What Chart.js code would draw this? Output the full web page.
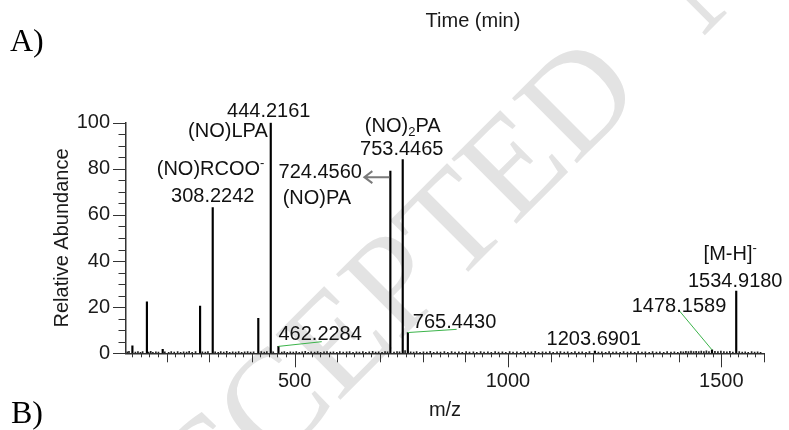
<!DOCTYPE html>
<html>
<head>
<meta charset="utf-8">
<script src="https://cdn.jsdelivr.net/npm/chart.js@4.4.1/dist/chart.umd.min.js"></script>
<style>
  html, body { margin: 0; padding: 0; background: #fff; }
  canvas { display: block; }
</style>
</head>
<body>
<canvas id="spec" width="789" height="430"></canvas>
<script>
// ---- spectrum data (m/z, relative abundance %) ----
const peakMz  = [120, 154, 191, 278.6, 308.2242, 415, 444.2161, 462.2284, 724.4560, 753.4465, 765.4430, 1203.6901, 1478.1589, 1534.9180];
const peakInt = [3.2, 22.3, 1.7, 20.5, 63.2, 15.2, 100, 3.0, 79.0, 84.0, 9.0, 1.0, 1.5, 27.0];

// low-level background ions along the baseline
const noiseMz  = [108, 112, 127, 133, 139, 144, 158, 163, 168, 175, 181, 196, 205, 211, 218, 226, 233, 240, 247, 253, 260, 268,
  284, 291, 297, 314, 321, 327, 334, 341, 348, 355, 362, 369, 376, 383, 390, 397, 404, 422, 429, 435, 450, 470, 476, 483, 490,
  497, 504, 511, 518, 525, 532, 539, 547, 554, 561, 569, 576, 584, 591, 599, 606, 614, 622, 629, 637, 645, 652, 660, 667, 675,
  683, 690, 697, 705, 712, 718, 733, 740, 746, 759, 772, 779, 786, 794, 802, 810, 818, 826, 834, 842, 851, 859, 868, 876, 885,
  893, 902, 910, 919, 927, 936, 944, 953, 961, 970, 978, 987, 995, 1004, 1012, 1021, 1030, 1038, 1047, 1055, 1064, 1072, 1081,
  1089, 1098, 1106, 1115, 1123, 1132, 1140, 1149, 1157, 1166, 1174, 1183, 1191, 1212, 1220, 1229, 1237, 1246, 1254, 1263, 1271,
  1280, 1288, 1297, 1305, 1314, 1322, 1331, 1339, 1348, 1356, 1365, 1373, 1382, 1390, 1398, 1405, 1411, 1417, 1423, 1429, 1435,
  1441, 1447, 1453, 1459, 1465, 1471, 1485, 1492, 1499, 1506, 1513, 1520, 1527, 1542, 1549, 1556, 1563, 1571, 1578, 1585, 1592];
const noiseInt = [0.6, 0.9, 0.5, 0.8, 0.4, 0.7, 0.5, 0.9, 0.4, 0.6, 0.5, 0.6, 0.4, 0.7, 0.5, 0.8, 0.4, 0.6, 0.5, 0.9, 0.4, 0.7,
  0.6, 0.5, 0.8, 0.6, 0.4, 0.7, 0.5, 0.9, 0.4, 0.6, 0.5, 0.8, 0.4, 0.6, 0.7, 0.5, 0.6, 0.8, 0.5, 0.7, 0.6, 0.5, 0.8, 0.4, 0.6,
  0.5, 0.7, 0.4, 0.6, 0.9, 0.4, 0.6, 0.5, 0.7, 0.4, 0.6, 0.8, 0.5, 0.6, 0.4, 0.7, 0.5, 0.6, 0.8, 0.4, 0.6, 0.5, 0.7, 0.4, 0.6,
  0.9, 0.5, 0.6, 0.4, 0.7, 0.6, 0.5, 0.8, 0.6, 1.2, 0.6, 0.5, 0.8, 0.4, 0.6, 0.5, 0.9, 0.4, 0.6, 0.5, 0.7, 0.4, 0.8, 0.5, 0.6,
  0.4, 0.7, 0.5, 0.6, 0.4, 0.8, 0.5, 0.6, 0.4, 0.7, 0.5, 0.6, 0.4, 0.8, 0.5, 0.6, 0.4, 0.7, 0.5, 0.6, 0.9, 0.4, 0.6,
  0.5, 0.7, 0.4, 0.6, 0.8, 0.5, 0.6, 0.4, 0.7, 0.5, 0.6, 0.4, 0.8, 0.5, 0.6, 0.4, 0.7, 0.5, 0.6, 0.4, 0.8,
  0.5, 0.6, 0.4, 0.7, 0.5, 0.6, 0.4, 0.8, 0.5, 0.6, 0.4, 0.7, 0.5, 0.6, 0.4, 0.8, 0.6, 0.9, 0.7, 1.0, 0.8,
  0.9, 0.7, 1.0, 0.8, 1.1, 0.7, 0.9, 0.7, 1.0, 0.8, 0.6, 0.9, 0.5, 0.7, 0.5, 0.6, 0.4, 0.8, 0.5, 0.6, 0.4];

// annotated ions
const annotMz   = [444.2161, 308.2242, 724.4560, 753.4465, 462.2284, 765.4430, 1203.6901, 1478.1589, 1534.9180];
const annotName = ['(NO)LPA', '(NO)RCOO^-', '(NO)PA', '(NO)_2PA', '', '', '', '', '[M-H]^-'];

// axis ticks
const xTickValues = [500, 1000, 1500];
const yTickValues = [0, 20, 40, 60, 80, 100];

// ---- label placement (pixel offsets from the top of each peak) ----
const labelStyle = {
  '444.2161':  { value: [-2, -5.7, 'center'], name: [-3, 14.3, 'right'] },
  '308.2242':  { value: [0, -5.6, 'center'], name: [-56, -32.6, 'left'] },
  '724.4560':  { value: [-28.4, 7, 'right'], name: [-73.4, 32.4, 'center'], arrow: [-1, 6, -26, 6] },
  '753.4465':  { value: [-1, -4.6, 'center'], name: [0, -28, 'center'] },
  '462.2284':  { value: [0, -6.4, 'left'], leader: [43.3, -4.7] },
  '765.4430':  { value: [5, -4.5, 'left'], leader: [48.8, -3.2] },
  '1203.6901': { value: [-1, -6, 'center'] },
  '1478.1589': { value: [-33, -37.8, 'center'], leader: [-32.7, -39.1] },
  '1534.9180': { value: [-1, -4, 'center'], name: [-6, -31, 'center'] }
};

const FONT = '"Liberation Sans", Arial, sans-serif';
const SERIF = '"Liberation Serif", "Times New Roman", serif';

function pts(xs, ys) { return xs.map((x, i) => ({ x: x, y: ys[i] })); }

// text with ^x superscript and _x subscript markers
function richParts(text) {
  const parts = [];
  for (let i = 0; i < text.length; i++) {
    const c = text[i];
    if ((c === '^' || c === '_') && i + 1 < text.length) {
      parts.push({ t: text[i + 1], mode: c === '^' ? 'sup' : 'sub' });
      i++;
    } else {
      const last = parts[parts.length - 1];
      if (last && last.mode === 'n') last.t += c; else parts.push({ t: c, mode: 'n' });
    }
  }
  return parts;
}
function drawRich(ctx, text, x, y, align, size) {
  const parts = richParts(text);
  const small = Math.round(size * 0.65);
  let total = 0;
  parts.forEach(p => {
    ctx.font = (p.mode === 'n' ? size : small) + 'px ' + FONT;
    p.w = ctx.measureText(p.t).width;
    total += p.w;
  });
  let cx = align === 'center' ? x - total / 2 : align === 'right' ? x - total : x;
  ctx.textAlign = 'left';
  ctx.textBaseline = 'alphabetic';
  parts.forEach(p => {
    ctx.font = (p.mode === 'n' ? size : small) + 'px ' + FONT;
    const dy = p.mode === 'sup' ? -size * 0.42 : p.mode === 'sub' ? size * 0.2 : 0;
    ctx.fillText(p.t, cx, y + dy);
    cx += p.w;
  });
}

const backdrop = {
  id: 'backdrop',
  beforeDraw(chart) {
    const ctx = chart.ctx;
    ctx.save();
    ctx.fillStyle = '#fff';
    ctx.fillRect(0, 0, chart.width, chart.height);
    // faint diagonal manuscript stamp
    ctx.translate(134, 606);
    ctx.rotate(-Math.PI / 4);
    ctx.font = '140px ' + SERIF;
    ctx.fillStyle = '#e3e3e3';
    ctx.textBaseline = 'alphabetic';
    ctx.fillText('ACCEPTED', 0, 0);
    const w = ctx.measureText('ACCEPTED ').width;
    ctx.fillText('MANUSCRIPT', w + 45, 0);
    ctx.restore();
  }
};

const decorations = {
  id: 'decorations',
  afterDraw(chart) {
    const ctx = chart.ctx;
    const xs = chart.scales.x, ys = chart.scales.y;
    const area = chart.chartArea;
    ctx.save();
    // tick marks: x every 20, longer every 100 and 500; y every 5, longer every 20
    ctx.strokeStyle = '#333';
    ctx.lineWidth = 1;
    ctx.beginPath();
    for (let v = 120; v <= 1600; v += 20) {
      const px = Math.round(xs.getPixelForValue(v)) + 0.5;
      const len = v % 500 === 0 ? 14 : (v % 100 === 0 ? 9 : 4);
      ctx.moveTo(px, area.bottom);
      ctx.lineTo(px, area.bottom + len);
    }
    for (let v = 0; v <= 100; v += 5) {
      const py = Math.round(ys.getPixelForValue(v)) + 0.5;
      const len = v % 20 === 0 ? 13 : 7.5;
      ctx.moveTo(area.left, py);
      ctx.lineTo(area.left - len, py);
    }
    ctx.stroke();

    // axis titles and panel letters
    ctx.fillStyle = '#1a1a1a';
    ctx.font = '20px ' + FONT;
    ctx.textAlign = 'center';
    ctx.textBaseline = 'middle';
    ctx.fillText('m/z', (area.left + area.right) / 2, 410.5);
    ctx.fillText('Time (min)', 473, 21.5);
    ctx.save();
    ctx.translate(62, (area.top + area.bottom) / 2);
    ctx.rotate(-Math.PI / 2);
    ctx.fillText('Relative Abundance', 0, 0);
    ctx.restore();
    ctx.fillStyle = '#000';
    ctx.font = '32px ' + SERIF;
    ctx.textAlign = 'left';
    ctx.textBaseline = 'alphabetic';
    ctx.fillText('A)', 10, 51);
    ctx.fillText('B)', 11, 423);

    // peak annotations
    annotMz.forEach((mz, i) => {
      const key = mz.toFixed(4);
      const st = labelStyle[key];
      const j = peakMz.indexOf(mz);
      const px = xs.getPixelForValue(mz);
      const py = ys.getPixelForValue(peakInt[j]);
      if (st.leader) {
        ctx.strokeStyle = '#3cb44b';
        ctx.lineWidth = 1;
        ctx.beginPath();
        ctx.moveTo(px, py);
        ctx.lineTo(px + st.leader[0], py + st.leader[1]);
        ctx.stroke();
      }
      if (st.arrow) {
        const [x1, y1, x2, y2] = st.arrow;
        ctx.strokeStyle = '#7a7a7a';
        ctx.lineWidth = 2;
        ctx.beginPath();
        ctx.moveTo(px + x1, py + y1);
        ctx.lineTo(px + x2, py + y2);
        ctx.moveTo(px + x2 + 8, py + y2 - 6);
        ctx.lineTo(px + x2, py + y2);
        ctx.lineTo(px + x2 + 8, py + y2 + 6);
        ctx.stroke();
      }
      ctx.fillStyle = '#111';
      drawRich(ctx, key, px + st.value[0], py + st.value[1], st.value[2], 20);
      if (st.name && annotName[i]) {
        drawRich(ctx, annotName[i], px + st.name[0], py + st.name[1], st.name[2], 20);
      }
    });
    ctx.restore();
  }
};

const tickFont = { family: FONT, size: 20 };

new Chart(document.getElementById('spec'), {
  type: 'bar',
  data: {
    datasets: [
      { data: pts(noiseMz, noiseInt), backgroundColor: '#222', barThickness: 1, grouped: false, order: 2 },
      { data: pts(peakMz, peakInt), backgroundColor: '#000', barThickness: 1.5, grouped: false, order: 1 }
    ]
  },
  options: {
    responsive: false,
    animation: false,
    devicePixelRatio: 1,
    layout: { padding: { top: 122.7, right: 25, left: 0, bottom: 0 } },
    plugins: { legend: { display: false }, tooltip: { enabled: false } },
    scales: {
      x: {
        type: 'linear', min: 105, max: 1600, offset: false,
        grid: { display: false, drawTicks: true, tickLength: 14 },
        border: { display: true, color: '#333', width: 1.5 },
        ticks: { padding: 2, font: tickFont, color: '#1a1a1a', maxRotation: 0, autoSkip: false,
                 callback: v => String(v) },
        afterBuildTicks: s => { s.ticks = xTickValues.map(v => ({ value: v })); },
        afterFit: s => { s.height = 430 - 353.3; }
      },
      y: {
        min: 0, max: 100,
        grid: { display: false, drawTicks: true, tickLength: 13 },
        border: { display: true, color: '#333', width: 1.5 },
        ticks: { padding: 3, font: tickFont, color: '#1a1a1a', callback: v => String(v) },
        afterBuildTicks: s => { s.ticks = yTickValues.map(v => ({ value: v })); },
        afterFit: s => { s.width = 126; }
      }
    }
  },
  plugins: [backdrop, decorations]
});
</script>
</body>
</html>
